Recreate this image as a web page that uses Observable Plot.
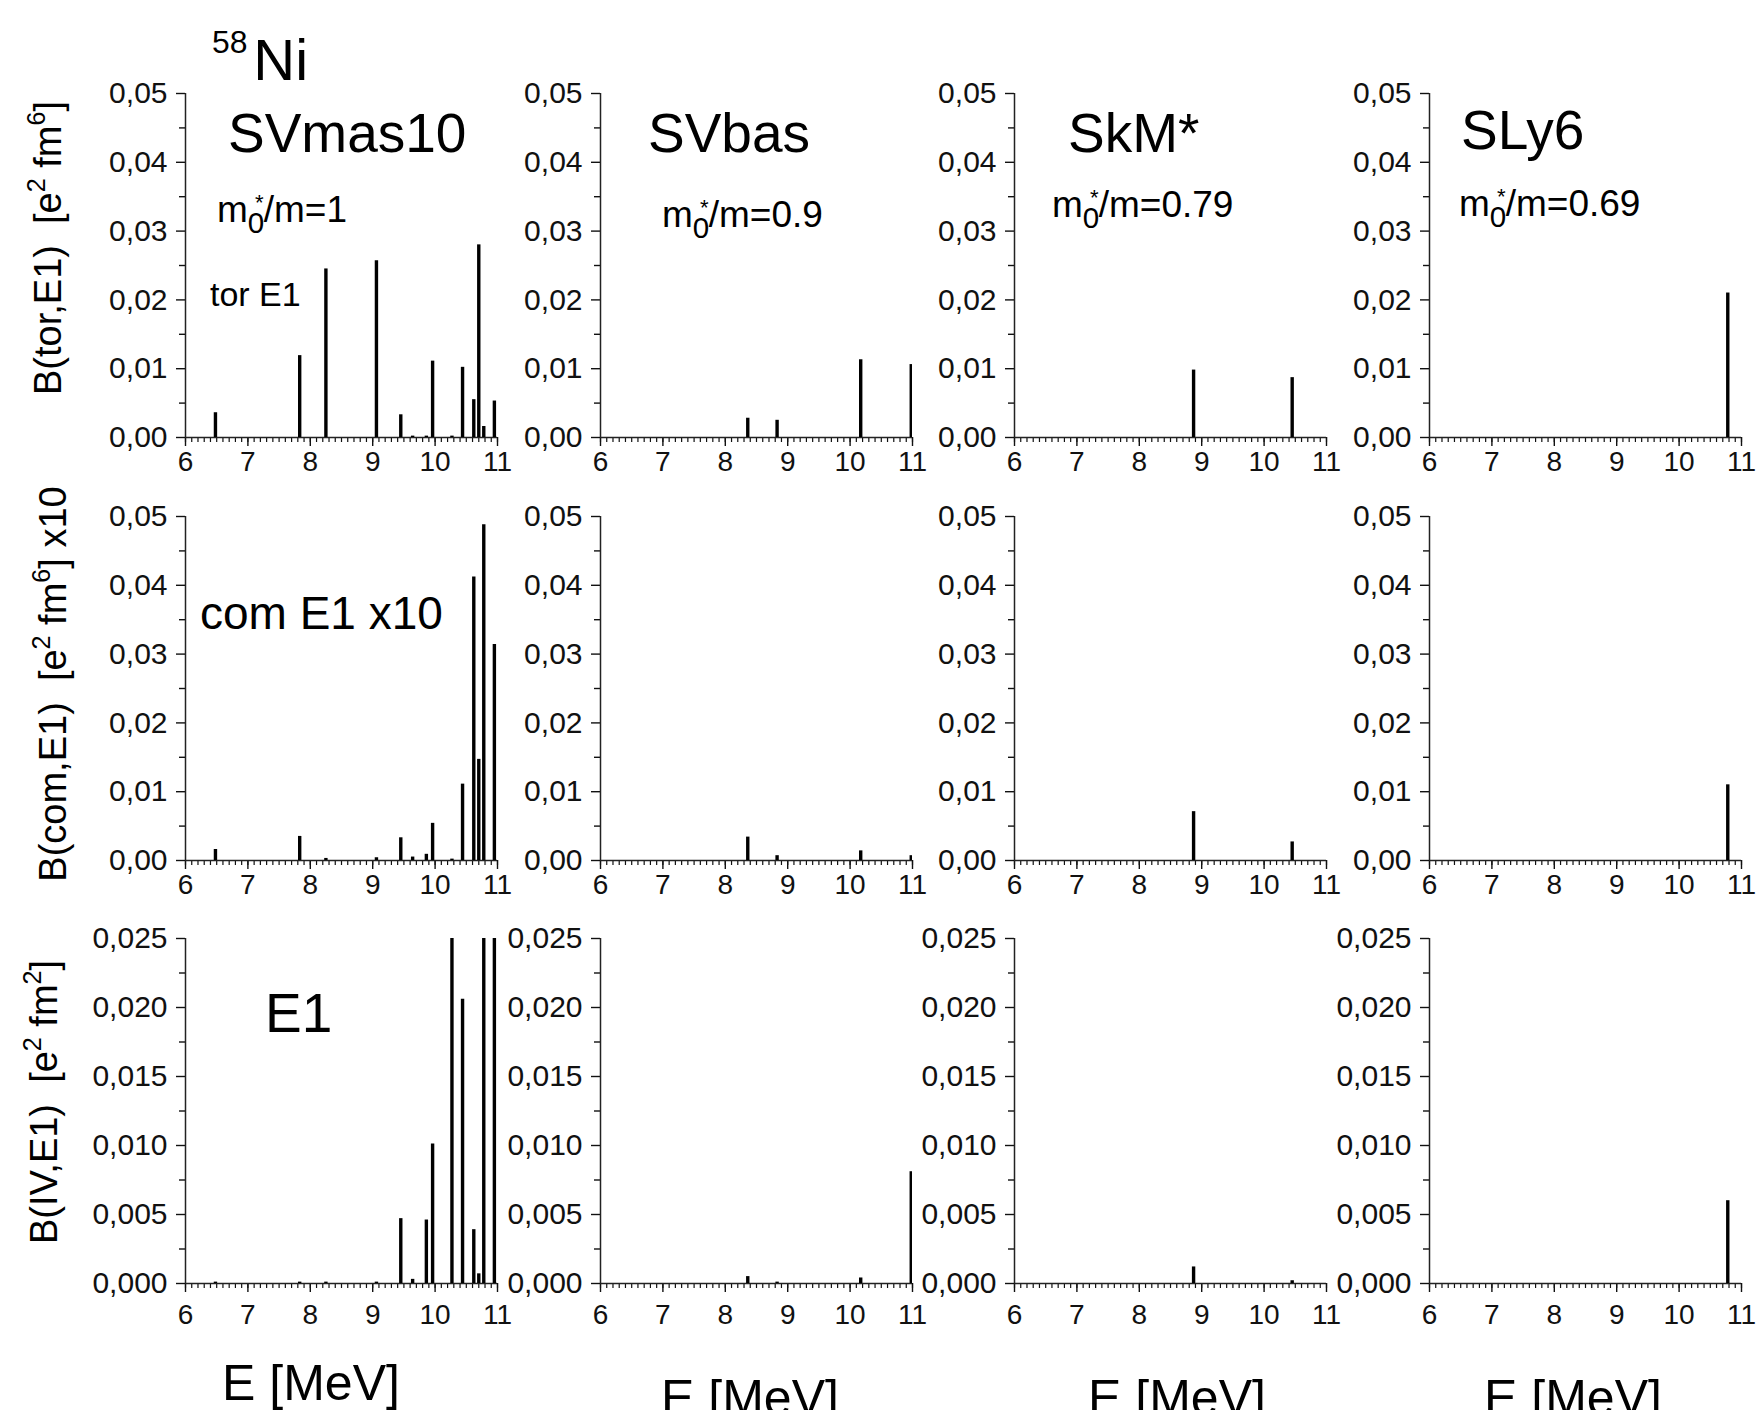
<!DOCTYPE html>
<html><head><meta charset="utf-8">
<script src="https://cdn.jsdelivr.net/npm/d3@7"></script>
<script src="https://cdn.jsdelivr.net/npm/@observablehq/plot@0.6"></script>
<style>
html,body{margin:0;padding:0;background:#fff;overflow:hidden;}
#wrap{position:relative;width:1757px;height:1410px;background:#fff;}
</style></head><body><div id="wrap"></div>
<script>
// ---------- data ----------
const models = ["SVmas10", "SVbas", "SkM*", "SLy6"];
const effMass = ["1", "0.9", "0.79", "0.69"];
const rowNames = ["tor E1", "com E1 x10", "E1"];

// SVmas10
const eSVmas10   = [6.48, 7.83, 8.25, 9.06, 9.45, 9.64, 9.86, 9.96, 10.27, 10.44, 10.62, 10.70, 10.78, 10.95];
const torSVmas10 = [0.0036, 0.0119, 0.0245, 0.0257, 0.0033, 0.0002, 0.0002, 0.0111, 0.0002, 0.0102, 0.0055, 0.0280, 0.0016, 0.0053];
const comSVmas10 = [0.0016, 0.0035, 0.0003, 0.0004, 0.0033, 0.0005, 0.0009, 0.0054, 0.0002, 0.0111, 0.0412, 0.0147, 0.0488, 0.0314];
const ivSVmas10  = [0.0001, 0.0001, 0.0001, 0.0001, 0.0047, 0.0003, 0.0046, 0.0101, 0.0300, 0.0206, 0.0039, 0.0007, 0.0300, 0.0300]; // 0.0300: beyond axis top (clipped)
// SVbas
const eSVbas   = [8.36, 8.83, 10.17, 10.98];
const torSVbas = [0.0028, 0.0025, 0.0113, 0.0106];
const comSVbas = [0.0034, 0.0007, 0.0014, 0.0007];
const ivSVbas  = [0.0005, 0.0001, 0.0004, 0.0081];
// SkM*
const eSkM   = [8.87, 10.45];
const torSkM = [0.0098, 0.0087];
const comSkM = [0.0071, 0.0027];
const ivSkM  = [0.0012, 0.0002];
// SLy6
const eSLy6   = [10.78];
const torSLy6 = [0.0210];
const comSLy6 = [0.0110];
const ivSLy6  = [0.0060];

// tick values
const xTicks = [6, 7, 8, 9, 10, 11];
const yTicksB = [0, 0.01, 0.02, 0.03, 0.04, 0.05];
const yMinorB = [0.005, 0.015, 0.025, 0.035, 0.045];
const yTicksIV = [0, 0.005, 0.010, 0.015, 0.020, 0.025];
const yMinorIV = [0.0025, 0.0075, 0.0125, 0.0175, 0.0225];
const xMinor = d3.range(60, 111).map(d => d / 10);

// ---------- layout ----------
const FONT = "'Liberation Sans', Arial, Helvetica, sans-serif";
const colLeft = [185, 600, 1014, 1429];
const rowTop = [93, 516, 938];
const plotW = 312;
const plotH = [344, 344, 345];
const ML = 120, MR = 16, MT = 20, MB = 60;

const energies = [eSVmas10, eSVbas, eSkM, eSLy6];
const series = [
  [torSVmas10, torSVbas, torSkM, torSLy6],
  [comSVmas10, comSVbas, comSkM, comSLy6],
  [ivSVmas10, ivSVbas, ivSkM, ivSLy6]
];

const wrap = document.getElementById("wrap");
const comma = f => d => f(d).replace(".", ",");

for (let r = 0; r < 3; r++) {
  for (let c = 0; c < 4; c++) {
    const data = energies[c].map((E, i) => ({E, B: series[r][c][i]}));
    const isIV = r === 2;
    const p = Plot.plot({
      width: ML + plotW + MR,
      height: MT + plotH[r] + MB,
      marginLeft: ML, marginRight: MR, marginTop: MT, marginBottom: MB,
      x: {domain: [6, 11]},
      y: {domain: [0, isIV ? 0.025 : 0.05]},
      style: {background: "transparent", fontFamily: FONT, color: "#111", overflow: "visible"},
      marks: [
        Plot.axisY({ticks: isIV ? yMinorIV : yMinorB, tickSize: 6, tickFormat: () => "", label: null, strokeWidth: 1.4}),
        Plot.axisY({ticks: isIV ? yTicksIV : yTicksB, tickSize: 9, tickPadding: 9,
          tickFormat: comma(d3.format(isIV ? ".3f" : ".2f")), fontSize: 30, label: null, strokeWidth: 1.4}),
        Plot.axisX({ticks: xMinor, tickSize: 5, tickFormat: () => "", label: null, strokeWidth: 1.2}),
        Plot.axisX({ticks: xTicks, tickSize: 9, tickPadding: isIV ? 12 : 5, tickFormat: d3.format("d"),
          fontSize: 28, label: null, strokeWidth: 1.4}),
        Plot.ruleX([6], {strokeWidth: 1.5, stroke: "#222"}),
        Plot.ruleY([0], {strokeWidth: 1.5, stroke: "#222"}),
        Plot.ruleX(data, {x: "E", y1: 0, y2: "B", stroke: "#000", strokeWidth: 3.4, clip: true})
      ]
    });
    p.style.position = "absolute";
    p.style.left = (colLeft[c] - ML) + "px";
    p.style.top = (rowTop[r] - MT) + "px";
    p.style.maxWidth = "none";
    wrap.appendChild(p);
  }
}

// ---------- annotations ----------
const ann = d3.select("#wrap").append("svg")
  .attr("width", 1757).attr("height", 1410)
  .style("position", "absolute").style("left", "0px").style("top", "0px")
  .style("pointer-events", "none").style("font-family", FONT);

function rich(x, y, size, pieces, opts = {}) {
  const t = ann.append("text").attr("x", x).attr("y", y).attr("font-size", size)
    .attr("text-anchor", opts.anchor || "start").attr("fill", "#000");
  if (opts.rotate) t.attr("transform", `rotate(-90,${x},${y})`);
  let prev = 0;
  for (const p of pieces) {
    const shift = p.shift || 0, sc = p.scale || 1;
    const s = t.append("tspan").attr("dy", (shift - prev) * size).attr("font-size", size * sc).text(p.t);
    if (p.dx) s.attr("dx", p.dx * size);
    prev = shift;
  }
  return t;
}
const sup = t => ({t, shift: -0.42, scale: 0.66});
const SP2 = "\u00A0\u00A0";

// y-axis titles
rich(61, 248, 38, [{t: "B(tor,E1)" + SP2 + "[e"}, sup("2"), {t: " fm"}, sup("6"), {t: "]"}], {anchor: "middle", rotate: true});
rich(66, 684, 38, [{t: "B(com,E1)" + SP2 + "[e"}, sup("2"), {t: " fm"}, sup("6"), {t: "] x10"}], {anchor: "middle", rotate: true});
rich(57, 1102, 38, [{t: "B(IV,E1)" + SP2 + "[e"}, sup("2"), {t: " fm"}, sup("2"), {t: "]"}], {anchor: "middle", rotate: true});

// nucleus
rich(212, 80, 58, [{t: "58", shift: -0.47, scale: 0.55}, {t: "Ni", dx: 0.1}]);

// model names
const nameX = [228, 648, 1068, 1461], nameY = [152, 152, 152, 149];
models.forEach((m, i) => rich(nameX[i], nameY[i], 55, [{t: m}]));

// effective masses  m*_0/m
const massX = [217, 662, 1052, 1459], massY = [222, 227, 217, 216];
effMass.forEach((v, i) => {
  rich(massX[i], massY[i], 37, [
    {t: "m"},
    {t: "0", shift: 0.3, scale: 0.8},
    {t: "*", shift: -0.33, scale: 0.6, dx: -0.25},
    {t: "/m=" + v, shift: 0}
  ]);
});

// row labels
rich(210, 306, 34, [{t: rowNames[0]}]);
rich(200, 629, 46, [{t: rowNames[1]}]);
rich(265, 1032, 55, [{t: rowNames[2]}]);

// x-axis titles
const exX = [311, 750, 1177, 1573], exY = [1400, 1415, 1415, 1415];
exX.forEach((x, i) => rich(x, exY[i], 50, [{t: "E [MeV]"}], {anchor: "middle"}));
</script></body></html>
